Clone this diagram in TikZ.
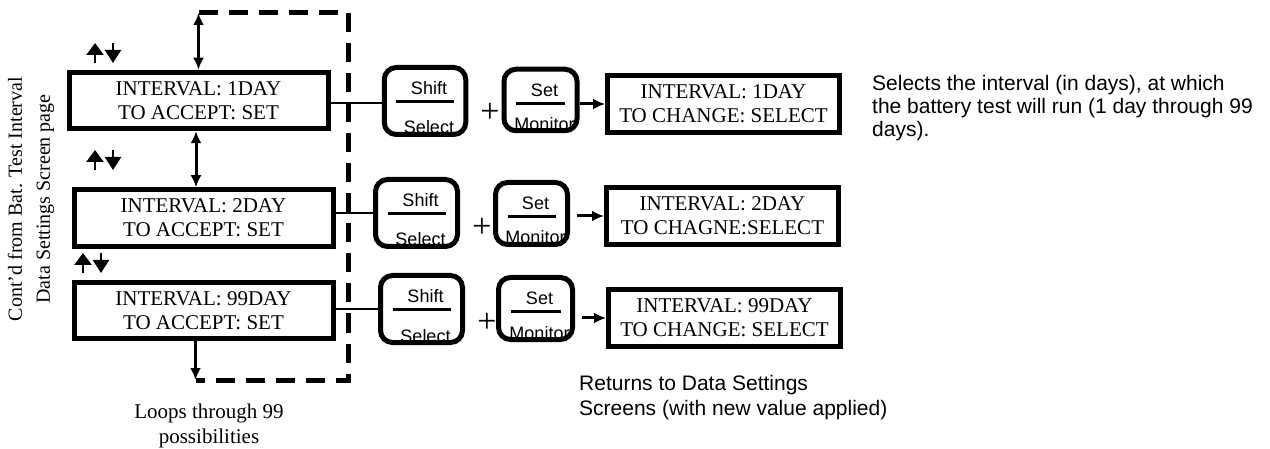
\documentclass[tikz,border=0pt]{standalone}
\usepackage{fontspec}
\setmainfont{Liberation Serif}
\setsansfont{Liberation Sans}
\usetikzlibrary{arrows.meta}
\tikzset{
    screen/.style={draw, line width=5pt, minimum width=259pt, minimum height=56.5pt, inner sep=0pt, align=center, font=\fontsize{21}{24}\selectfont},
    result/.style={screen, minimum width=232pt, minimum height=57pt},
    keybox/.style={draw, line width=5pt, rounded corners=12pt, inner sep=0pt},
    keylbl/.style={inner sep=0pt, font=\sffamily\fontsize{18}{18}\selectfont},
    plussign/.style={inner sep=0pt, font=\fontsize{34}{34}\selectfont},
    note/.style={inner sep=0pt, align=left, font=\sffamily\fontsize{21}{23}\selectfont},
    link/.style={line width=2.5pt},
    flowarrow/.style={-{Latex[length=12pt,width=11pt]}, line width=3pt},
    bothways/.style={{Latex[length=12pt,width=11pt]}-{Latex[length=12pt,width=11pt]}, line width=3pt},
    loopback/.style={line width=5pt, dash pattern=on 19pt off 11pt}
}
% key cap: name, x, y, inner width, inner height, upper label, lower label
\newcommand{\keycap}[7]{%
    \node[keylbl, anchor=base] (#1up) at (#2+4,#3-#5/2+27.5) {#6};
    \node[keylbl, anchor=base] (#1low) at (#2+4,#3+#5/2-0.5) {#7};
    \draw[line width=2.7pt] (#2-#4/2+12,#3-#5/2+34) -- (#2+#4/2-12,#3-#5/2+34);
    \node[keybox, minimum width=#4pt, minimum height=#5pt] (#1) at (#2,#3) {};
}
% scroll keys
\newcommand{\updown}[2]{%
    \draw[line width=2.5pt, -{Triangle[length=12pt,width=17pt]}] (#1,#2+10) -- (#1,#2-10);
    \draw[line width=2.5pt, -{Triangle[length=13pt,width=16pt]}] (#1+18,#2-10) -- (#1+18,#2+10);
}

\begin{document}
\begin{tikzpicture}[x=1pt, y=-1pt]
    \useasboundingbox (0,0) rectangle (1270,449);

    \node[rotate=90, align=center, font=\fontsize{20}{28}\selectfont] (from) at (31,199) {Cont’d from Bat. Test Interval\\Data Settings Screen page};

    % screens being scrolled
    \node[screen] (scr1) at (198.5,100.5) {INTERVAL: 1DAY\\TO ACCEPT: SET};
    \node[screen] (scr2) at (203.5,218) {INTERVAL: 2DAY\\TO ACCEPT: SET};
    \node[screen] (scr3) at (203.5,310.5) {INTERVAL: 99DAY\\TO ACCEPT: SET};

    \updown{95}{53}
    \updown{95}{160}
    \updown{83}{263}

    % loop back to the first screen
    \coordinate (looptop) at (198.5,13);
    \coordinate (loopne) at (348,13);
    \coordinate (loopse) at (348,380);
    \coordinate (loopend) at (195.5,380);
    \draw[loopback] (looptop) -- (loopne) -- (loopse) -- (loopend);
    \draw[bothways] (looptop) -- (scr1.north);
    \draw[bothways] ([xshift=-2.5pt]scr1.south) -- ([xshift=-2.5pt]scr1.south |- scr2.north);
    \draw[flowarrow] ([xshift=-8pt]scr3.south) -- (loopend);

    % key presses
    \keycap{shift1}{425}{101}{81.5}{67}{Shift}{Select}
    \keycap{set1}{540.5}{100}{73}{61.5}{Set}{Monitor}
    \keycap{shift2}{416.5}{213}{82}{67}{Shift}{Select}
    \keycap{set2}{531.5}{213.5}{72}{62}{Set}{Monitor}
    \keycap{shift3}{421.5}{309}{82}{67}{Shift}{Select}
    \keycap{set3}{535.5}{308.5}{74}{62}{Set}{Monitor}

    \node[plussign] (plus1) at (490,113) {+};
    \node[plussign] (plus2) at (482,228) {+};
    \node[plussign] (plus3) at (487,323) {+};

    % resulting screens
    \node[result] (chg1) at (723.5,104) {INTERVAL: 1DAY\\TO CHANGE: SELECT};
    \node[result] (chg2) at (722.5,216) {INTERVAL: 2DAY\\TO CHAGNE:SELECT};
    \node[result] (chg3) at (724.5,318) {INTERVAL: 99DAY\\TO CHANGE: SELECT};

    \draw[link] ([yshift=-2pt]scr1.east |- shift1.west) -- ([yshift=-2pt]shift1.west);
    \draw[link] (scr2.east |- shift2.west) -- (shift2.west);
    \draw[link] (scr3.east |- shift3.west) -- (shift3.west);
    \draw[flowarrow] (set1.east |- chg1.west) -- (chg1.west);
    \draw[flowarrow, shorten <=7pt] (set2.east |- chg2.west) -- (chg2.west);
    \draw[flowarrow, shorten <=7pt] (set3.east |- chg3.west) -- (chg3.west);

    % notes
    \node[note, anchor=north west] (what) at (872,75.5) {Selects the interval (in days), at which\\the battery test will run (1 day through 99\\days).};
    \node[note, anchor=north west, font=\sffamily\fontsize{21}{25}\selectfont] (back) at (579,375) {Returns to Data Settings\\Screens (with new value applied)};
    \node[align=center, font=\fontsize{21}{25}\selectfont] (loops) at (209,425.5) {Loops through 99\\possibilities};
\end{tikzpicture}
\end{document}
